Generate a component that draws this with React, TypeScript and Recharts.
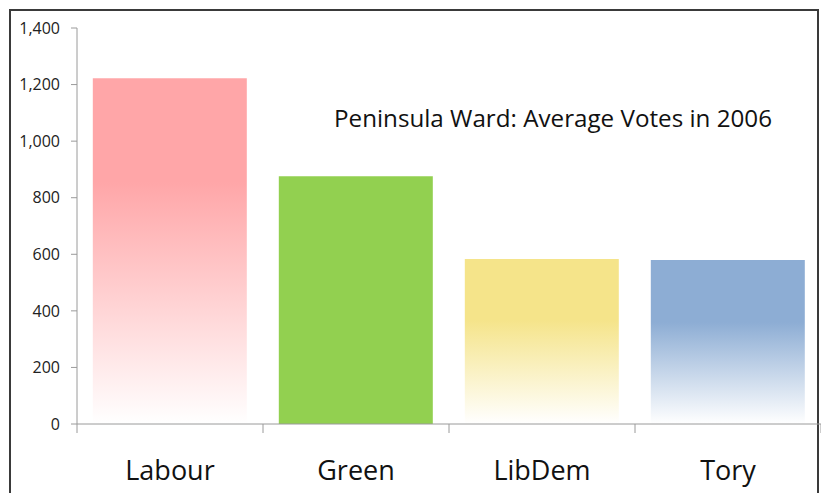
import { BarChart, Bar, XAxis, YAxis, Cell } from "recharts";

const parties = ["Labour", "Green", "LibDem", "Tory"];
const votes = [1222, 876, 583, 580];
const yTicks = [0, 200, 400, 600, 800, 1000, 1200, 1400];

const data = parties.map((party, i) => ({ party, votes: votes[i] }));

// top colour, where the fade starts, bottom colour
const fills = [
  { top: "#FFA6A8", hold: 0.3, bottom: "#FFFFFF" },
  { top: "#92D050", hold: 1, bottom: "#92D050" },
  { top: "#F5E48A", hold: 0.37, bottom: "#FFFFFF" },
  { top: "#8DADD4", hold: 0.38, bottom: "#FFFFFF" },
];

const font = "'Open Sans', sans-serif";
const axisColor = "#9a9a9a";
const TICK_SIZE = 6;
const TICK_MARGIN = 2;

// category label, plus the tick marks on the band edges like Excel draws them
function PartyTick(props: any) {
  const { x, y, payload, index, width, visibleTicksCount } = props;
  const half =
    payload && payload.offset ? payload.offset : width / visibleTicksCount / 2;
  const axisY = y - TICK_SIZE - TICK_MARGIN;
  const last = index === visibleTicksCount - 1;
  return (
    <g>
      <line x1={x - half} x2={x - half} y1={axisY} y2={axisY + 9} stroke={axisColor} />
      {last && (
        <line x1={x + half} x2={x + half} y1={axisY} y2={axisY + 9} stroke={axisColor} />
      )}
      <text
        x={x}
        y={y}
        dy={48}
        textAnchor="middle"
        fontFamily={font}
        fontSize={27}
        fill="#111"
      >
        {payload.value}
      </text>
    </g>
  );
}

export default function App() {
  return (
    <div
      style={{
        position: "absolute",
        left: 0,
        top: 0,
        width: 821,
        height: 493,
        background: "#fff",
        overflow: "hidden",
      }}
    >
      <div
        style={{
          position: "absolute",
          left: 9,
          top: 9,
          width: 806,
          height: 490,
          border: "2px solid #3a3a3a",
          borderBottom: "none",
        }}
      />
      <div style={{ position: "absolute", left: 0, top: 0 }}>
        <BarChart
          width={821}
          height={493}
          data={data}
          margin={{ top: 28, right: 0, left: 0, bottom: 0 }}
          barCategoryGap="8.5%"
        >
          <defs>
            {fills.map((f, i) => (
              <linearGradient key={i} id={`fill${i}`} x1="0" y1="0" x2="0" y2="1">
                <stop offset="0" stopColor={f.top} />
                <stop offset={f.hold} stopColor={f.top} />
                <stop offset="1" stopColor={f.bottom} />
              </linearGradient>
            ))}
          </defs>
          <XAxis
            dataKey="party"
            height={69}
            stroke={axisColor}
            tickLine={false}
            tickSize={TICK_SIZE}
            tickMargin={TICK_MARGIN}
            tick={<PartyTick />}
            interval={0}
          />
          <YAxis
            width={77}
            domain={[0, 1400]}
            ticks={yTicks}
            stroke={axisColor}
            tickSize={6}
            tickMargin={11}
            tickFormatter={(v: number) => v.toLocaleString("en-US")}
            tick={{ fontFamily: font, fontSize: 16, fill: "#222" }}
          />
          <Bar dataKey="votes" isAnimationActive={false}>
            {data.map((d, i) => (
              <Cell key={d.party} fill={`url(#fill${i})`} />
            ))}
          </Bar>
        </BarChart>
      </div>
      <div
        style={{
          position: "absolute",
          left: 334,
          top: 101,
          fontFamily: font,
          fontSize: 24.2,
          color: "#111",
          whiteSpace: "nowrap",
        }}
      >
        Peninsula Ward: Average Votes in 2006
      </div>
    </div>
  );
}
